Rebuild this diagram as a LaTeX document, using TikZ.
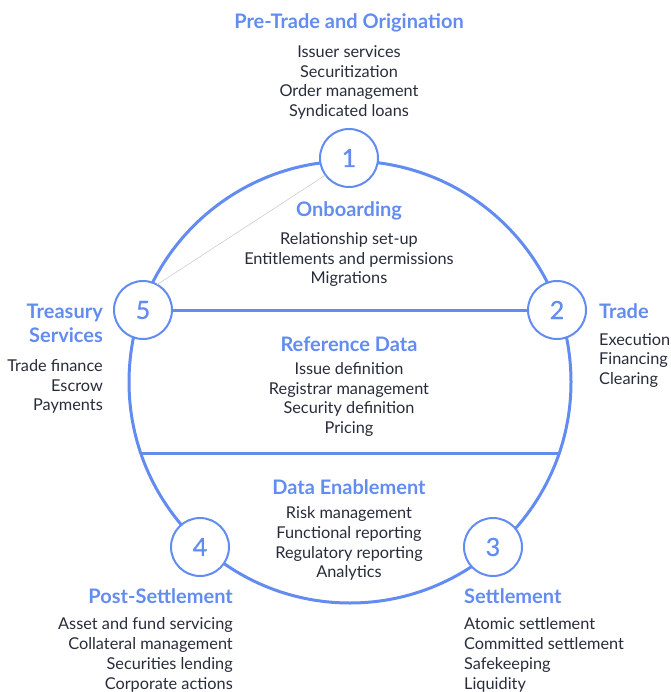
\documentclass[tikz,border=0pt]{standalone}
\usepackage{fontspec}
\setmainfont{Lato}
\newfontfamily\numfont[FakeBold=0.6]{Lato}
\definecolor{bl}{HTML}{628CF0}
\definecolor{tx}{HTML}{282C3A}
\begin{document}
\begin{tikzpicture}[x=1pt,y=-1pt,
  ring/.style={circle, draw=bl, line width=3pt, minimum size=442pt, inner sep=0pt, outer sep=0pt},
  num/.style={circle, draw=bl, line width=2pt, fill=white, minimum size=58pt, inner sep=0pt, outer sep=0pt, text=bl, font=\numfont\fontsize{25}{25}\selectfont},
  ttl/.style={inner sep=0pt, text=bl, font=\fontsize{20}{24}\bfseries\selectfont},
  body/.style={inner sep=0pt, text=tx, font=\fontsize{16.3}{19.8}\selectfont},
  conn/.style={draw=bl, line width=3pt},
  faint/.style={draw=black!22, line width=0.5pt}]
\useasboundingbox (0,0) rectangle (670,692);
\node[ring] (ring) at (350,382) {};
\node[num] (n1) at (349,158) {1};
\node[num] (n2) at (557,310) {2};
\node[num] (n3) at (493,547) {3};
\node[num] (n4) at (200,547) {4};
\node[num] (n5) at (143,310) {5};
\draw[conn] (n5) -- (n2);
\draw[conn] (ring.199.4) -- (ring.-19.4);
\draw[faint] (n5.61) -- (n1.216);
% top
\node[ttl] (t1) at (349,23) {Pre-Trade and Origination};
\node[body, align=center] (b1) at (349,82.5) {Issuer services\\Securitization\\Order management\\Syndicated loans};
\node[ttl] (t2) at (349,211) {Onboarding};
\node[body, align=center] (b2) at (349,259.5) {Relationship set-up\\Entitlements and permissions\\Migrations};
\node[ttl] (t3) at (349,344) {Reference Data};
\node[body, align=center] (b3) at (349,399.5) {Issue definition\\Registrar management\\Security definition\\Pricing};
\node[ttl] (t4) at (349,487) {Data Enablement};
\node[body, align=center] (b4) at (349,543.5) {Risk management\\Functional reporting\\Regulatory reporting\\Analytics};
% right
\node[ttl, anchor=west] (t5) at (599,311) {Trade};
\node[body, align=left, anchor=west] (b5) at (599,360.5) {Execution\\Financing\\Clearing};
% left
\node[ttl, align=right, anchor=east] (t6) at (103,323) {Treasury\\Services};
\node[body, align=right, anchor=east] (b6) at (103,386.5) {Trade finance\\Escrow\\Payments};
% bottom
\node[ttl, anchor=east] (t7) at (233,596) {Post-Settlement};
\node[body, align=right, anchor=east] (b7) at (233,655) {Asset and fund servicing\\Collateral management\\Securities lending\\Corporate actions};
\node[ttl, anchor=west] (t8) at (464,596) {Settlement};
\node[body, align=left, anchor=west] (b8) at (464,655) {Atomic settlement\\Committed settlement\\Safekeeping\\Liquidity};
\end{tikzpicture}
\end{document}
